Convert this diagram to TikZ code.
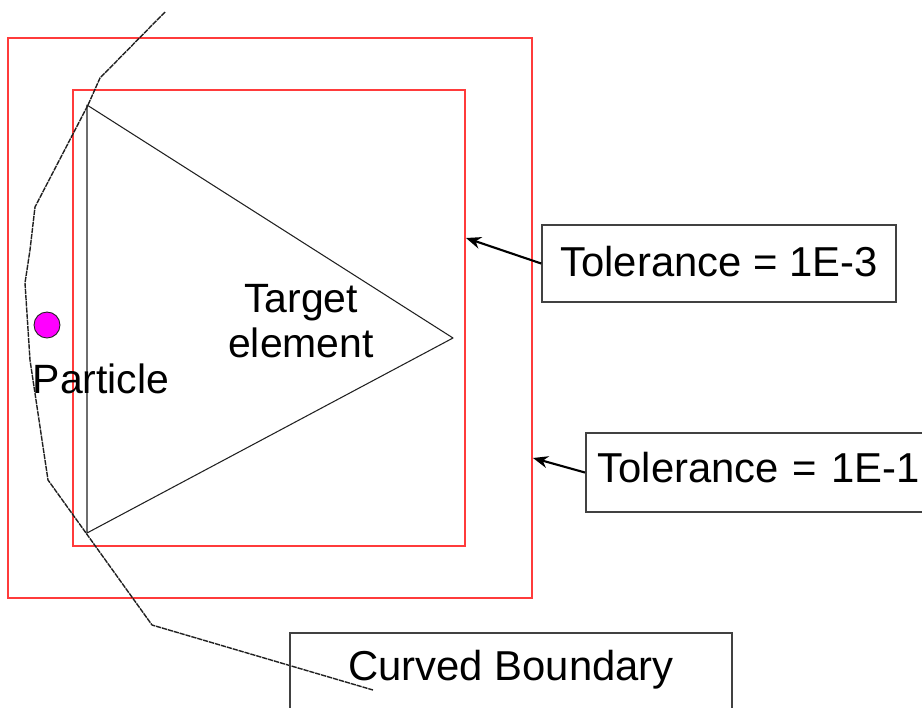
\documentclass[tikz,border=0pt]{standalone}
\usepackage{fontspec}
\setmainfont{Liberation Sans}
\usepackage{tikz}
\usetikzlibrary{arrows.meta}
\definecolor{tol}{HTML}{FF3B3B}
\definecolor{ink}{HTML}{202020}
\definecolor{part}{HTML}{FF00FF}
\tikzset{
  tolbox/.style={draw=tol, line width=0.9pt},
  elem/.style={draw=ink, line width=0.6pt, line join=round},
  bdry/.style={draw=ink, line width=0.8pt, line join=round, dash pattern=on 3pt off 0.5pt},
  note/.style={draw=ink!85, line width=0.9pt, font=\fontsize{23.8}{26}\selectfont, inner xsep=0.24cm, inner ysep=0.1cm},
  lab/.style={font=\fontsize{23.3}{25.5}\selectfont, inner sep=0pt},
  ptr/.style={draw=black, line width=1.2pt, -{Stealth[length=3mm,width=2.4mm]}},
  dotp/.style={circle, fill=part, draw=ink, line width=0.5pt, minimum size=0.52cm, inner sep=0pt},
}
\begin{document}
\begin{tikzpicture}[x=0.02cm, y=-0.02cm]
  \useasboundingbox (0,0) rectangle (922,707);

  % tolerance boxes
  \draw[tolbox] (8,38) rectangle (532,598);
  \draw[tolbox] (73,90) rectangle (465,546);

  % target element
  \coordinate (T1) at (87,105);
  \coordinate (T2) at (87,533);
  \coordinate (T3) at (453,338);
  \draw[elem] (T1) -- (T2) -- (T3) -- cycle;
  \node[lab, align=center] (target) at (301,321) {Target\\element};

  % curved boundary
  \draw[bdry] (165,12) -- (100,78) -- (88,105) -- (35,207) -- (30,250) -- (25,283)
    -- (30,360) -- (48,480) -- (152,625) -- (373,690);

  % particle
  \node[dotp] (particle) at (47,325) {};
  \node[lab, anchor=base] (ptxt) at (101,393) {Particle};

  % notes
  \node[note, anchor=base, minimum width=7.08cm, text height=0.92cm, text depth=0.42cm] (tol3) at (719,276) {Tolerance = 1E-3};
  \node[note, anchor=base west, text width=7cm, align=left, text height=0.88cm, text depth=0.5cm] (tol1) at (585,482) {Tolerance = 1E-1};
  \node[note, anchor=base, minimum width=8.84cm, text height=0.84cm, text depth=1cm] (curve) at (511,680) {Curved Boundary};

  \coordinate (in3) at (466,238);
  \coordinate (in1) at (533,458);
  \draw[ptr] (tol3.west) -- (in3);
  \draw[ptr] (tol1.west) -- (in1);
\end{tikzpicture}
\end{document}
